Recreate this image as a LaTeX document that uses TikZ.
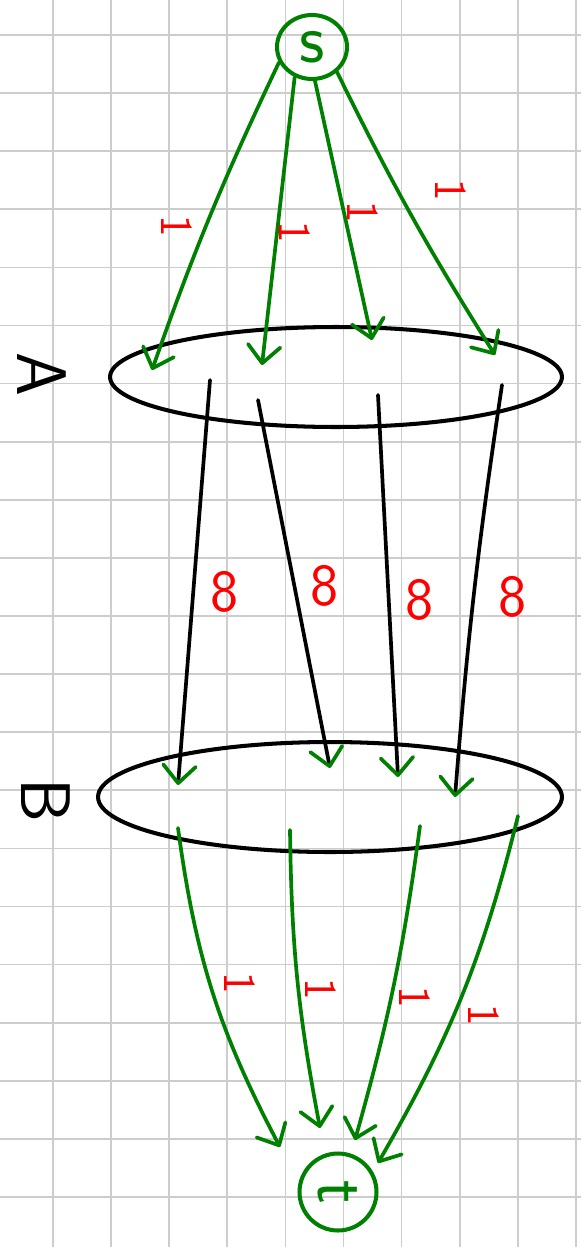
\documentclass[tikz,border=0pt]{standalone}
\usepackage{tikz}
\usetikzlibrary{arrows.meta,shapes.geometric}

\definecolor{grn}{RGB}{0,128,0}
\definecolor{rd}{RGB}{255,0,0}
\definecolor{gridgray}{RGB}{205,205,205}

\begin{document}
\begin{tikzpicture}[
  x=0.02cm, y=-0.02cm,
  font=\sffamily,
  set/.style={draw,ellipse,line width=2.3pt,inner sep=0pt},
  vtx/.style={draw=grn,ellipse,line width=2.3pt,inner sep=0pt,text=grn},
  flow/.style={draw=grn,line width=2.1pt,line cap=round,
    -{Straight Barb[length=3.5mm,width=6.5mm,round]}},
  pass/.style={draw=black,line width=2.1pt,line cap=round,
    -{Straight Barb[length=3.5mm,width=6.5mm,round,color=grn]}},
  wt/.style={text=rd,inner sep=0pt,font=\sffamily\fontsize{26}{28}\selectfont},
  big/.style={text=rd,inner sep=0pt,font=\sffamily\fontsize{34}{36}\selectfont},
  side/.style={inner sep=0pt,rotate=-90,font=\sffamily\fontsize{40}{42}\selectfont}]
\fill[white] (0,0) rectangle (581,1247);
\useasboundingbox (0,0) rectangle (581,1247);
% squared paper
\foreach \i in {0,...,9}
  \draw[gridgray,line width=1pt] (53+58.1*\i,0) -- (53+58.1*\i,1247);
\foreach \j in {0,...,20}
  \draw[gridgray,line width=1pt] (0,35+58.1*\j) -- (581,35+58.1*\j);

% vertices and sets
\node[vtx,minimum width=1.4cm,minimum height=1.28cm,font=\sffamily\fontsize{40}{42}\selectfont] (s) at (312,47) {s};
\node[set,minimum width=9.04cm,minimum height=2cm] (A) at (336,377) {};
\node[set,minimum width=9.28cm,minimum height=2.2cm] (B) at (330,797) {};
\node[vtx,minimum size=1.54cm,rotate=-90,font=\sffamily\fontsize{40}{42}\selectfont] (t) at (338,1192) {t};
\node[side] (labA) at (42,374) {A};
\node[side] (labB) at (46,800) {B};

% points inside the sets
\coordinate (ain1) at (152,370);
\coordinate (ain2) at (262,365);
\coordinate (ain3) at (372,340);
\coordinate (ain4) at (495,355);
\coordinate (aout1) at (210,380);
\coordinate (aout2) at (258,400);
\coordinate (aout3) at (378,395);
\coordinate (aout4) at (502,385);
\coordinate (bin1) at (178,785);
\coordinate (bin2) at (330,768);
\coordinate (bin3) at (398,777);
\coordinate (bin4) at (455,797);
\coordinate (bout1) at (178,828);
\coordinate (bout2) at (290,830);
\coordinate (bout3) at (420,826);
\coordinate (bout4) at (518,816);
\coordinate (tin1) at (280,1147);
\coordinate (tin2) at (320,1128);
\coordinate (tin3) at (355,1140);
\coordinate (tin4) at (378,1163);

% s to A
\draw[flow] (s.205) to[bend right=3] (ain1);
\draw[flow] (s.240) -- (ain2);
\draw[flow] (s.275) -- (ain3);
\draw[flow] (s.315) to[bend right=3] (ain4);
\node[wt,rotate=-90] (w1) at (177,226) {1};
\node[wt,rotate=-90] (w2) at (295,232) {1};
\node[wt,rotate=-90] (w3) at (363,212) {1};
\node[wt,rotate=-90] (w4) at (451,190) {1};

% A to B
\draw[pass] (aout1) -- (bin1);
\draw[pass] (aout2) -- (bin2);
\draw[pass] (aout3) -- (bin3);
\draw[pass] (aout4) to[bend right=2] (bin4);
\node[big] (c1) at (225,592) {8};
\node[big] (c2) at (325,586) {8};
\node[big] (c3) at (420,600) {8};
\node[big] (c4) at (513,597) {8};

% B to t
\draw[flow] (bout1) to[bend right=10] (tin1);
\draw[flow] (bout2) to[bend right=5] (tin2);
\draw[flow] (bout3) to[bend left=4] (tin3);
\draw[flow] (bout4) to[bend left=8] (tin4);
\node[wt,rotate=-90] (w5) at (240,983) {1};
\node[wt,rotate=-90] (w6) at (321,989) {1};
\node[wt,rotate=-90] (w7) at (415,997) {1};
\node[wt,rotate=-90] (w8) at (484,1015) {1};
\end{tikzpicture}
\end{document}
